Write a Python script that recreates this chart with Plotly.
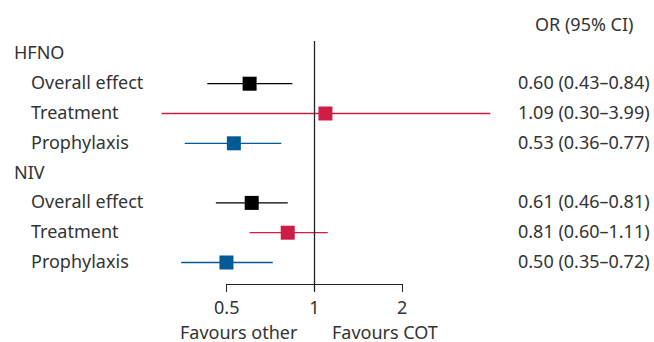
import math
import plotly.graph_objects as go

groups = ["HFNO", "NIV"]
subgroups = ["Overall effect", "Treatment", "Prophylaxis"]
or_vals = {"HFNO": [0.60, 1.09, 0.53], "NIV": [0.61, 0.81, 0.50]}
lo_vals = {"HFNO": [0.43, 0.30, 0.36], "NIV": [0.46, 0.60, 0.35]}
hi_vals = {"HFNO": [0.84, 3.99, 0.77], "NIV": [0.81, 1.11, 0.72]}
sub_colors = ["#000000", "#CF1D45", "#005A96"]
tick_vals = [0.5, 1, 2]
tick_text = ["0.5", "1", "2"]
header = "OR (95% CI)"
favour_left = "Favours other"
favour_right = "Favours COT"

W, H = 654, 342
FONT = "Noto Sans"
TXT = "#333333"
FS = 18

# pixel geometry helpers
px_per_dec = 292.5
x_one = 314.5
x0_log = -x_one / px_per_dec
x1_log = x0_log + W / px_per_dec
row0, row_h = 53.9, 29.8
y_top = -row0 / row_h
y_bot = (H - row0) / row_h

fig = go.Figure()
annotations = []

def label(x, y, text, anchor, xref="paper", yref="y", yshift=1.5):
    return dict(x=x, xref=xref, y=y, yref=yref, text=text, xanchor=anchor,
                yanchor="middle", showarrow=False, yshift=yshift,
                font=dict(family=FONT, size=FS, color=TXT))

row = 0
for g in groups:
    annotations.append(label(12 / W, row, g, "left"))
    row += 1
    for j, s in enumerate(subgroups):
        o, lo, hi = or_vals[g][j], lo_vals[g][j], hi_vals[g][j]
        c = sub_colors[j]
        fig.add_trace(go.Scatter(x=[lo, hi], y=[row, row], mode="lines",
                                 line=dict(color=c, width=1.3),
                                 hoverinfo="skip", showlegend=False))
        fig.add_trace(go.Scatter(x=[o], y=[row], mode="markers",
                                 marker=dict(symbol="square", size=14, color=c,
                                             line=dict(width=0)),
                                 showlegend=False))
        annotations.append(label(29 / W, row, s, "left"))
        annotations.append(label(652 / W, row,
                                 f"{o:.2f} ({lo:.2f}\u2013{hi:.2f})", "right"))
        row += 1

annotations.append(label(584 / W, 1 - 24 / H, header, "center", yref="paper", yshift=0))
annotations.append(label(300 / W, 1 - 332 / H, favour_left, "right", yref="paper", yshift=0))
annotations.append(label(330 / W, 1 - 332 / H, favour_right, "left", yref="paper", yshift=0))

# invisible trace to activate secondary axis
fig.add_trace(go.Scatter(x=[1], y=[0], xaxis="x2", mode="markers",
                         marker=dict(opacity=0), hoverinfo="skip", showlegend=False))

fig.add_shape(type="line", xref="x", yref="paper", x0=1, x1=1,
              y0=1 - 291 / H, y1=1 - 41 / H, line=dict(color="#222222", width=1.3))

eps = 0.001
d0 = (x_one + math.log10(0.5) * px_per_dec) / W
d1 = (x_one + math.log10(2) * px_per_dec) / W
fig.update_layout(
    width=W, height=H,
    margin=dict(l=0, r=0, t=0, b=0, pad=0),
    paper_bgcolor="white", plot_bgcolor="rgba(0,0,0,0)",
    xaxis=dict(type="log", range=[x0_log, x1_log], visible=False, domain=[0, 1],
               automargin=False, fixedrange=True),
    yaxis=dict(range=[y_bot, y_top], visible=False, domain=[0, 1],
               automargin=False, fixedrange=True),
    xaxis2=dict(type="log", range=[math.log10(0.5) - eps, math.log10(2) + eps],
                domain=[d0, d1], anchor="free", position=1 - 284 / H,
                automargin=False, fixedrange=True,
                showline=True, linecolor="#222222", linewidth=1.3,
                ticks="outside", ticklen=7, tickwidth=1.3, tickcolor="#222222",
                tickvals=tick_vals, ticktext=tick_text, showgrid=False, zeroline=False,
                tickfont=dict(family=FONT, size=FS, color=TXT)),
    annotations=annotations,
    showlegend=False,
)

fig.write_html("out.html", post_script="document.body.style.margin='0';",
               config={"displayModeBar": False})
